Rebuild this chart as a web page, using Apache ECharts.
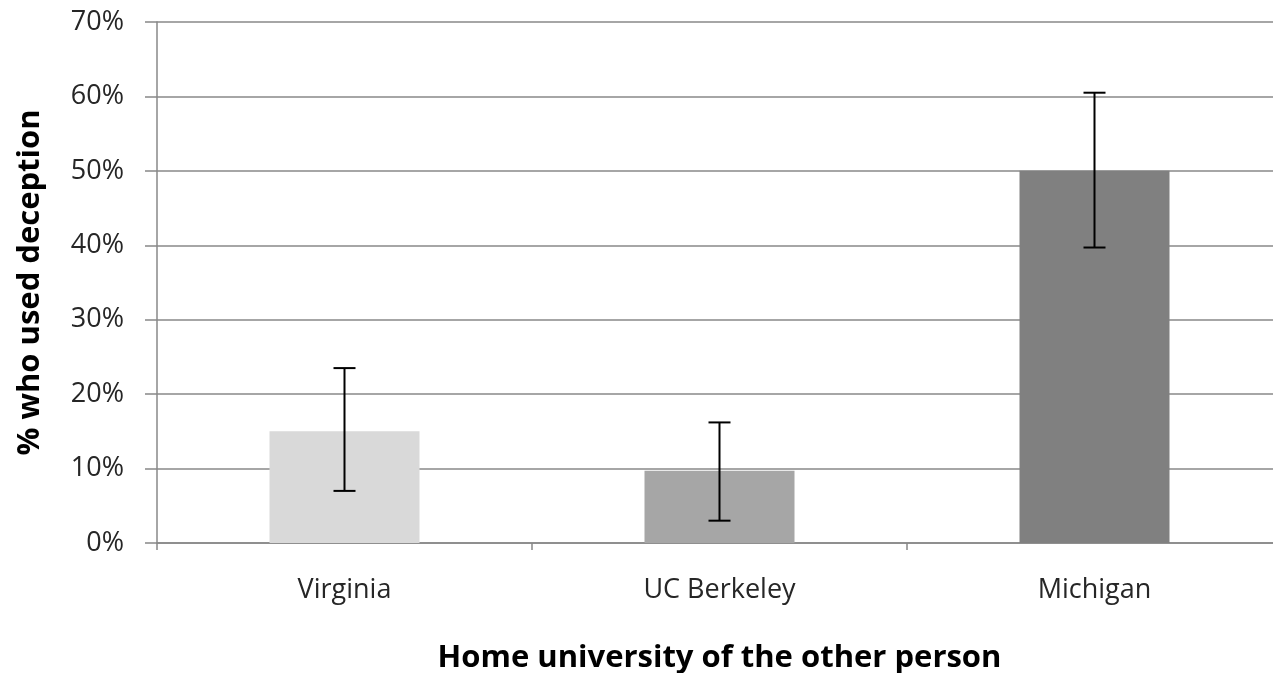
<!DOCTYPE html>
<html>
<head>
<meta charset="utf-8">
<script src="https://cdn.jsdelivr.net/npm/echarts@6/dist/echarts.min.js"></script>
<style>
html,body{margin:0;padding:0;background:#fff;overflow:hidden;}
#chart{width:1273px;height:673px;}
</style>
</head>
<body>
<div id="chart"></div>
<script>
const categories = ['Virginia', 'UC Berkeley', 'Michigan'];
const values = [15, 9.7, 50];
const errLow = [7.0, 3.0, 39.7];
const errHigh = [23.5, 16.2, 60.5];
const barColors = ['#d9d9d9', '#a6a6a6', '#808080'];
const yTicks = [0, 10, 20, 30, 40, 50, 60, 70];

const FONT = 'Open Sans';
const chart = echarts.init(document.getElementById('chart'));
chart.setOption({
  animation: false,
  backgroundColor: '#ffffff',
  grid: { left: 157, width: 1125, top: 22, height: 521, containLabel: false, outerBoundsMode: 'none' },
  xAxis: {
    type: 'category',
    data: categories,
    boundaryGap: true,
    name: 'Home university of the other person',
    nameLocation: 'middle',
    nameGap: 100,
    nameTextStyle: { fontFamily: FONT, fontWeight: 'bold', fontSize: 31, color: '#000' },
    axisLine: { show: true, lineStyle: { color: '#888', width: 1.5 } },
    axisTick: { show: true, length: 7, inside: false, lineStyle: { color: '#888', width: 1.5 } },
    axisLabel: { margin: 34, fontFamily: FONT, fontSize: 27, color: '#262626' }
  },
  yAxis: {
    type: 'value',
    min: yTicks[0],
    max: yTicks[yTicks.length - 1],
    interval: 10,
    name: '% who used deception',
    nameLocation: 'middle',
    nameRotate: 90,
    nameGap: 111,
    nameTextStyle: { fontFamily: FONT, fontWeight: 'bold', fontSize: 31, color: '#000' },
    axisLine: { show: true, lineStyle: { color: '#888', width: 1.5 } },
    axisTick: { show: true, length: 12, lineStyle: { color: '#888', width: 1.5 } },
    splitLine: { show: true, lineStyle: { color: '#888', width: 1.5 } },
    axisLabel: { margin: 33, fontFamily: FONT, fontSize: 27, color: '#262626', padding: [10, 0, 0, 0], formatter: '{value}%' }
  },
  series: [
    {
      type: 'bar',
      barWidth: 150,
      data: values.map((v, i) => ({ value: v, itemStyle: { color: barColors[i] } })),
      z: 2
    },
    {
      type: 'custom',
      z: 3,
      data: categories.map((c, i) => [i, errLow[i], errHigh[i]]),
      renderItem: function (params, api) {
        const x = api.value(0);
        const lo = api.coord([x, api.value(1)]);
        const hi = api.coord([x, api.value(2)]);
        const hw = 11;
        const style = { stroke: '#000', lineWidth: 2 };
        return {
          type: 'group',
          children: [
            { type: 'line', shape: { x1: lo[0], y1: lo[1], x2: hi[0], y2: hi[1] }, style: style },
            { type: 'line', shape: { x1: lo[0] - hw, y1: lo[1], x2: lo[0] + hw, y2: lo[1] }, style: style },
            { type: 'line', shape: { x1: hi[0] - hw, y1: hi[1], x2: hi[0] + hw, y2: hi[1] }, style: style }
          ]
        };
      }
    }
  ]
});
</script>
</body>
</html>
